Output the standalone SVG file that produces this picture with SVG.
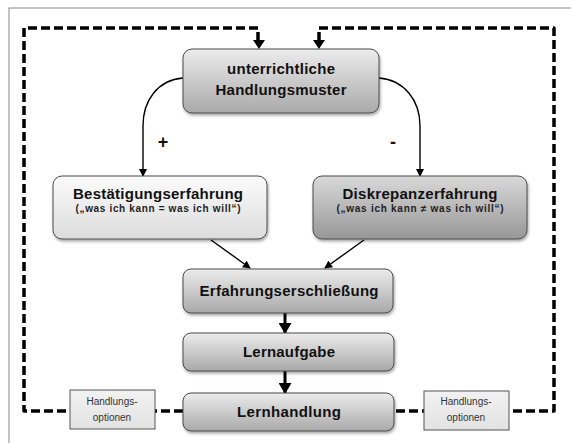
<svg xmlns="http://www.w3.org/2000/svg" width="571" height="443" viewBox="0 0 571 443">
<style>
  .node { stroke: #4a4a4a; stroke-width: 1; }
  .title { font-family: "Liberation Sans", Arial, sans-serif; font-weight: bold; font-size: 15px; fill: #111; text-anchor: middle; }
  .sub { font-family: "Liberation Sans", Arial, sans-serif; font-weight: bold; font-size: 10px; fill: #222; text-anchor: middle; }
  .opt { font-family: "Liberation Sans", Arial, sans-serif; font-size: 10px; fill: #333; text-anchor: middle; }
  .sign { font-family: "Liberation Sans", Arial, sans-serif; font-weight: bold; font-size: 18px; fill: #111; text-anchor: middle; }
  .dash { fill: none; stroke: #000; stroke-width: 3.5; stroke-dasharray: 9 4; stroke-linejoin: round; }
  .thin { fill: none; stroke: #000; stroke-width: 1.4; }
  .thick { fill: none; stroke: #000; stroke-width: 3; }
</style>
<defs>
  <linearGradient id="gMid" x1="0" y1="0" x2="0" y2="1">
    <stop offset="0" stop-color="#ececec"/>
    <stop offset="1" stop-color="#a9a9a9"/>
  </linearGradient>
  <linearGradient id="gLight" x1="0" y1="0" x2="0" y2="1">
    <stop offset="0" stop-color="#fbfbfb"/>
    <stop offset="1" stop-color="#dcdcdc"/>
  </linearGradient>
  <linearGradient id="gDark" x1="0" y1="0" x2="0" y2="1">
    <stop offset="0" stop-color="#d9d9d9"/>
    <stop offset="1" stop-color="#979797"/>
  </linearGradient>
  <linearGradient id="gOpt" x1="0" y1="0" x2="0" y2="1">
    <stop offset="0" stop-color="#f2f2f2"/>
    <stop offset="1" stop-color="#e2e2e2"/>
  </linearGradient>
  <filter id="sh" x="-10%" y="-10%" width="125%" height="135%">
    <feDropShadow dx="1" dy="2" stdDeviation="1.5" flood-color="#000" flood-opacity="0.35"/>
  </filter>
  <marker id="aSmall" markerWidth="8" markerHeight="8" refX="7" refY="4" orient="auto" markerUnits="userSpaceOnUse">
    <path d="M0,0 L8,4 L0,8 Z" fill="#000"/>
  </marker>
  <marker id="aBig" markerWidth="11" markerHeight="13" refX="10" refY="6.5" orient="auto" markerUnits="userSpaceOnUse">
    <path d="M0,0 L11,6.5 L0,13 Z" fill="#000"/>
  </marker>
</defs>

<rect x="9" y="8" width="600" height="500" fill="#fff" stroke="#8a8a8a" stroke-width="1"/>

<g id="connectors">
  <path class="dash" d="M258,41 V28 H24 V411 H183"/>
  <path class="dash" d="M319,41 V28 H554 V411 H394"/>
  <path d="M253,40 L265,40 L259,49 Z" fill="#000"/>
  <path d="M313,40 L325,40 L319,49 Z" fill="#000"/>
  <path class="thin" d="M183,78 C158,80 143,100 143,126 V176" marker-end="url(#aSmall)"/>
  <path class="thin" d="M379,78 C404,80 420,100 420,126 V176" marker-end="url(#aSmall)"/>
  <path class="thin" d="M211,240 L250,268" marker-end="url(#aSmall)"/>
  <path class="thin" d="M364,240 L325,268" marker-end="url(#aSmall)"/>
  <path class="thick" d="M285,313 V333" marker-end="url(#aBig)"/>
  <path class="thick" d="M285,371 V393" marker-end="url(#aBig)"/>
  <text class="sign" x="163" y="148">+</text>
  <text class="sign" x="393" y="148">-</text>
</g>

<g id="node-handlungsmuster">
  <rect class="node" x="183" y="49" width="196" height="64" rx="9" fill="url(#gMid)" filter="url(#sh)"/>
  <text class="title" x="281" y="74" textLength="108" lengthAdjust="spacing">unterrichtliche</text>
  <text class="title" x="281" y="95" textLength="131" lengthAdjust="spacing">Handlungsmuster</text>
</g>

<g id="node-bestaetigung">
  <rect class="node" x="53" y="176" width="214" height="63" rx="9" fill="url(#gLight)" filter="url(#sh)"/>
  <text class="title" x="158" y="199" textLength="170" lengthAdjust="spacing">Bestätigungserfahrung</text>
  <text class="sub" x="158" y="212" textLength="165" lengthAdjust="spacing">(„was ich kann = was ich will“)</text>
</g>

<g id="node-diskrepanz">
  <rect class="node" x="313" y="176" width="214" height="63" rx="9" fill="url(#gDark)" filter="url(#sh)"/>
  <text class="title" x="420" y="199" textLength="155" lengthAdjust="spacing">Diskrepanzerfahrung</text>
  <text class="sub" x="420" y="212" textLength="167" lengthAdjust="spacing">(„was ich kann ≠ was ich will“)</text>
</g>

<g id="node-erfahrungserschliessung">
  <rect class="node" x="183" y="269" width="210" height="44" rx="8" fill="url(#gMid)" filter="url(#sh)"/>
  <text class="title" x="289" y="296" textLength="179" lengthAdjust="spacing">Erfahrungserschließung</text>
</g>

<g id="node-lernaufgabe">
  <rect class="node" x="183" y="333" width="211" height="38" rx="8" fill="url(#gMid)" filter="url(#sh)"/>
  <text class="title" x="289" y="357" textLength="92" lengthAdjust="spacing">Lernaufgabe</text>
</g>

<g id="node-lernhandlung">
  <rect class="node" x="183" y="393" width="211" height="38" rx="8" fill="url(#gMid)" filter="url(#sh)"/>
  <text class="title" x="289" y="417" textLength="104" lengthAdjust="spacing">Lernhandlung</text>
</g>

<g id="node-optionen-links">
  <rect x="70" y="390" width="85" height="39" fill="url(#gOpt)" stroke="#555" stroke-width="1"/>
  <text class="opt" x="112" y="405">Handlungs-</text>
  <text class="opt" x="112" y="421">optionen</text>
</g>

<g id="node-optionen-rechts">
  <rect x="424" y="391" width="85" height="39" fill="url(#gOpt)" stroke="#555" stroke-width="1"/>
  <text class="opt" x="466" y="405">Handlungs-</text>
  <text class="opt" x="466" y="421">optionen</text>
</g>
</svg>
